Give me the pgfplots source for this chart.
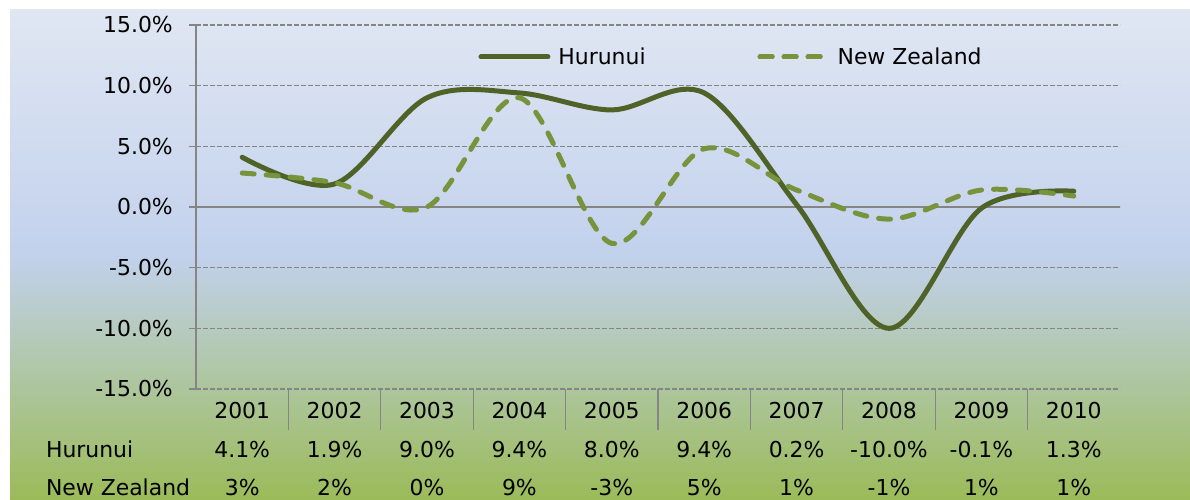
\documentclass[border=0pt]{standalone}
\usepackage{fontspec}
\setmainfont{DejaVu Sans}
\usepackage{pgfplots}
\pgfplotsset{compat=1.18}
\definecolor{huru}{HTML}{4F6228}
\definecolor{nz}{HTML}{77933C}
\definecolor{gridc}{HTML}{858585}
\definecolor{bgtop}{HTML}{E0E7F3}
\definecolor{bgmid}{HTML}{C2D1EC}
\definecolor{bgbot}{HTML}{9BBB59}
\newcommand\tfont{\fontsize{22}{26}\selectfont}
\newcommand\cell[3]{\node[anchor=base, inner sep=0pt, yshift=#2] at (axis cs:#1,-15) {#3};}
\pgfplotsset{
  hurleg/.style={legend image code/.code={\draw[##1] (0bp,0bp) -- (67bp,0bp);}},
  nzleg/.style={legend image code/.code={\draw[##1] (0bp,0bp) -- (60bp,0bp); \path (0bp,0bp) -- (67bp,0bp);}},
}
\begin{document}
\begin{tikzpicture}[font=\tfont]
\fill[white] (0,0) rectangle (1190bp,500bp);
\shade[top color=bgtop, bottom color=bgbot, middle color=bgmid] (10bp,0) rectangle (1190bp,490bp);
\begin{axis}[
  at={(196bp,111bp)}, anchor=south west,
  scale only axis, width=924bp, height=364bp,
  xmin=-0.5, xmax=9.5, ymin=-15, ymax=15,
  clip=false,
  axis x line*=bottom, axis y line*=left,
  x axis line style={draw=none},
  y axis line style={draw=gridc, line width=1.5bp, -},
  xtick={0,...,9},
  xticklabels={2001,2002,2003,2004,2005,2006,2007,2008,2009,2010},
  every major x tick/.append style={draw=none},
  ytick={-15,-10,...,15},
  yticklabels={-15.0\%,-10.0\%,-5.0\%,0.0\%,5.0\%,10.0\%,15.0\%},
  extra y ticks={0}, extra y tick labels={},
  extra y tick style={grid style={solid, draw=gridc, line width=1.6bp}},
  tick align=outside, major tick length=7bp,
  tick style={draw=gridc, line width=1.3bp},
  ymajorgrids,
  grid style={draw=gridc, line width=1.4bp, dash pattern=on 4.5bp off 2.5bp},
  tick label style={font=\tfont},
  yticklabel style={anchor=east, inner sep=0pt, xshift=-16bp},
  xticklabel style={anchor=base, inner sep=0pt, yshift=-22bp},
  legend columns=2,
  legend style={draw=none, fill=none, inner sep=0pt, outer sep=0pt,
    at={(0.3057,0.9121)}, anchor=west, font=\tfont,
    nodes={inner sep=0pt},
    /tikz/every odd column/.append style={column sep=8bp},
    /tikz/every even column/.append style={column sep=112bp}},
]
\addplot[huru, line width=5bp, line cap=round, smooth, tension=0.55, no marks, hurleg]
  coordinates {(0,4.1)(1,1.9)(2,9.0)(3,9.4)(4,8.0)(5,9.4)(6,0.2)(7,-10.0)(8,-0.1)(9,1.3)};
\addlegendentry{Hurunui}
\addplot[nz, line width=5bp, line cap=round, dash pattern=on 12bp off 12bp, smooth, tension=0.55, no marks, nzleg]
  coordinates {(0,2.8)(1,2.0)(2,0.0)(3,9.0)(4,-3.0)(5,4.8)(6,1.4)(7,-1.0)(8,1.4)(9,0.9)};
\addlegendentry{New Zealand}
\pgfplotsinvokeforeach{0.5,1.5,2.5,3.5,4.5,5.5,6.5,7.5,8.5}{
  \draw[gridc, line width=1.3bp] (axis cs:#1,-15) -- (axis cs:#1,-18.38);
}
\node[anchor=base west, inner sep=0pt, yshift=-68.5bp] at (axis cs:-2.125,-15) {Hurunui};
\node[anchor=base west, inner sep=0pt, yshift=-106.5bp] at (axis cs:-2.125,-15) {New Zealand};
\cell{0}{-68.5bp}{4.1\%}
\cell{1}{-68.5bp}{1.9\%}
\cell{2}{-68.5bp}{9.0\%}
\cell{3}{-68.5bp}{9.4\%}
\cell{4}{-68.5bp}{8.0\%}
\cell{5}{-68.5bp}{9.4\%}
\cell{6}{-68.5bp}{0.2\%}
\cell{7}{-68.5bp}{-10.0\%}
\cell{8}{-68.5bp}{-0.1\%}
\cell{9}{-68.5bp}{1.3\%}
\cell{0}{-106.5bp}{3\%}
\cell{1}{-106.5bp}{2\%}
\cell{2}{-106.5bp}{0\%}
\cell{3}{-106.5bp}{9\%}
\cell{4}{-106.5bp}{-3\%}
\cell{5}{-106.5bp}{5\%}
\cell{6}{-106.5bp}{1\%}
\cell{7}{-106.5bp}{-1\%}
\cell{8}{-106.5bp}{1\%}
\cell{9}{-106.5bp}{1\%}
\end{axis}
\pgfresetboundingbox
\path[use as bounding box] (0,0) rectangle (1190bp,500bp);
\end{tikzpicture}
\end{document}
